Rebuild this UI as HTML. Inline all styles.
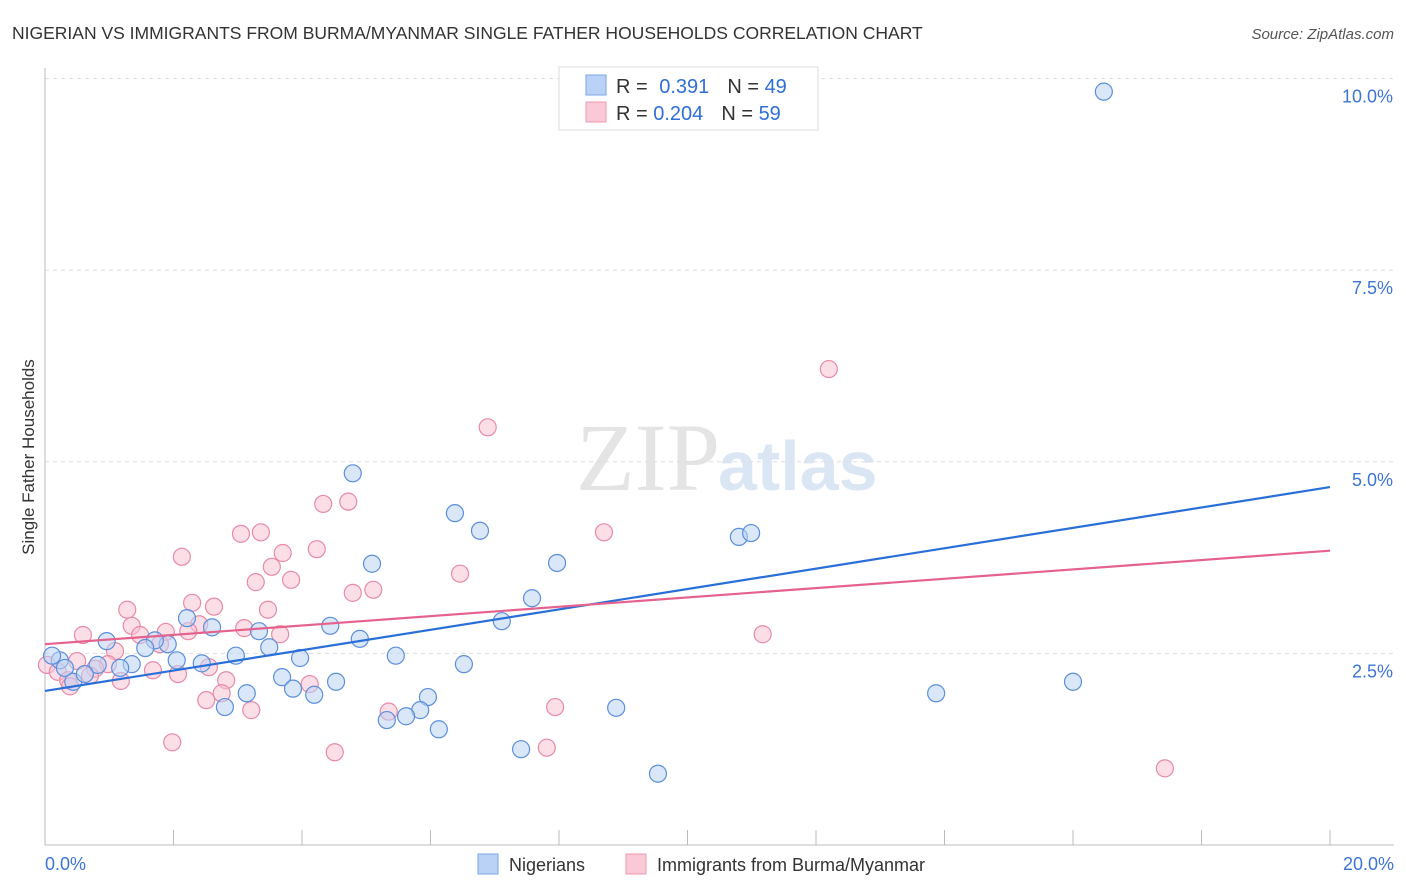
<!DOCTYPE html>
<html><head><meta charset="utf-8"><style>
body{margin:0;background:#fff;font-family:"Liberation Sans",sans-serif}
svg{display:block}
</style></head><body>
<svg id="chart" width="1406" height="892" viewBox="0 0 1406 892">
<text x="12" y="39" font-size="17.5" fill="#333">NIGERIAN VS IMMIGRANTS FROM BURMA/MYANMAR SINGLE FATHER HOUSEHOLDS CORRELATION CHART</text>
<text x="1394" y="39" font-size="15" fill="#555" font-style="italic" text-anchor="end">Source: ZipAtlas.com</text>
<text x="720" y="490" font-size="96" font-family="Liberation Serif,serif" fill="#e4e4e4" text-anchor="end">ZIP</text>
<text x="718" y="490" font-size="70" fill="#dbe6f5" font-weight="bold">atlas</text>
<g id="grid"></g>
<g id="axes"></g>
<g id="points"></g>
<g id="lines"></g>
<text transform="translate(34,457) rotate(-90)" font-size="17" fill="#333" text-anchor="middle">Single Father Households</text>
<g>
<rect x="559" y="67" width="259" height="63" fill="#fff" stroke="#ddd"/>
<rect x="586" y="75" width="20" height="20" fill="#b9d2f5" stroke="#7aa6e6"/>
<rect x="586" y="102" width="20" height="20" fill="#f9c9d7" stroke="#eb9ab2"/>
<text x="616" y="93" font-size="20" fill="#333">R = <tspan fill="#2f6fd6" dx="6">0.391</tspan><tspan dx="18">N = </tspan><tspan fill="#2f6fd6">49</tspan></text>
<text x="616" y="120" font-size="20" fill="#333">R = <tspan fill="#2f6fd6">0.204</tspan><tspan dx="18">N = </tspan><tspan fill="#2f6fd6">59</tspan></text>
</g>
<g>
<rect x="478" y="854" width="20" height="20" fill="#b9d2f5" stroke="#7aa6e6"/>
<text x="509" y="871" font-size="18" fill="#333">Nigerians</text>
<rect x="626" y="854" width="20" height="20" fill="#f9c9d7" stroke="#eb9ab2"/>
<text x="657" y="871" font-size="18" fill="#333">Immigrants from Burma/Myanmar</text>
</g>
</svg>
<script>
const yTicks=[2.5,5.0,7.5,10.0];
const yTickLabels=["2.5%","5.0%","7.5%","10.0%"];
const xTicks=[0,2,4,6,8,10,12,14,16,18,20];
const xTickLabels=["0.0%","20.0%"];
const nigX=[16.48,4.79,6.38,6.77,5.09,7.97,10.80,10.99,7.58,7.11,4.44,4.90,3.33,2.60,2.21,1.91,1.71,0.96,1.56,3.49,2.97,2.05,2.44,3.97,5.46,6.52,1.35,1.17,0.82,0.23,0.11,0.31,0.44,0.62,3.69,3.86,4.19,4.53,3.14,2.80,5.96,5.84,5.62,5.32,6.13,8.89,7.41,9.54,13.87,16.00];
const nigY=[9.83,4.85,4.33,4.10,3.67,3.68,4.02,4.07,3.22,2.92,2.86,2.69,2.79,2.84,2.96,2.62,2.67,2.66,2.57,2.58,2.47,2.41,2.37,2.44,2.47,2.36,2.36,2.31,2.35,2.41,2.47,2.31,2.13,2.23,2.19,2.04,1.96,2.13,1.98,1.80,1.93,1.76,1.68,1.63,1.51,1.79,1.25,0.93,1.98,2.13];
const burX=[12.20,6.89,4.72,4.33,8.70,3.05,3.36,4.23,3.70,2.13,3.53,6.46,3.28,3.83,5.11,4.79,2.29,2.63,1.28,3.47,1.35,2.40,3.10,2.23,1.88,1.48,0.59,3.66,11.17,1.79,1.09,1.68,2.07,2.55,0.50,0.98,0.78,0.03,0.20,0.36,0.39,0.70,1.18,2.82,4.12,2.75,2.51,3.21,5.35,7.94,1.98,4.51,7.81,17.43];
const burY=[6.21,5.45,4.48,4.45,4.08,4.06,4.08,3.86,3.81,3.76,3.63,3.54,3.43,3.46,3.33,3.29,3.16,3.11,3.07,3.07,2.86,2.88,2.83,2.79,2.78,2.74,2.74,2.75,2.75,2.62,2.53,2.28,2.23,2.32,2.40,2.36,2.30,2.35,2.26,2.15,2.07,2.21,2.14,2.15,2.10,1.98,1.89,1.76,1.74,1.80,1.34,1.21,1.27,1.00];
const nigTrend=[2.01,4.67];
const burTrend=[2.62,3.84];
const NS="http://www.w3.org/2000/svg";
const sx=v=>45+v/20*1285;
const sy=v=>845-v*76.64;
function mk(tag,attrs,parent){const e=document.createElementNS(NS,tag);for(const k in attrs)e.setAttribute(k,attrs[k]);parent.appendChild(e);return e;}
const grid=document.getElementById('grid'),axes=document.getElementById('axes'),pts=document.getElementById('points'),lines=document.getElementById('lines');
yTicks.forEach((t,i)=>{
 const l=mk('line',{x1:45,x2:1394,y1:sy(t),y2:sy(t),stroke:'#ddd','stroke-dasharray':'4,4'},grid);
 
 
 const tx=mk('text',{x:1393,y:sy(t)+24,'font-size':18,fill:'#3d75d6','text-anchor':'end'},axes);
 tx.textContent=yTickLabels[i];
 
 
});
const ya=mk('line',{x1:45,x2:45,y1:68,y2:845,stroke:'#bbb'},axes);


const xa=mk('line',{x1:45,x2:1394,y1:845,y2:845,stroke:'#bbb'},axes);


xTicks.forEach(t=>{
 const l=mk('line',{x1:sx(t),x2:sx(t),y1:830,y2:845,stroke:'#bbb'},axes);
 
 
});
[[0,'start',45],[20,'end',1394]].forEach((a,i)=>{
 const tx=mk('text',{x:a[2],y:870,'font-size':18,fill:'#3d75d6','text-anchor':a[1]},axes);
 tx.textContent=xTickLabels[i];
 
 
});
function drawPts(X,Y,fill,stroke,name){
 X.forEach((x,i)=>{
  const c=mk('circle',{cx:sx(x),cy:sy(Y[i]),r:8.5,fill:fill,'fill-opacity':0.55,stroke:stroke,'stroke-width':1.2},pts);
  
  
 });
}
drawPts(burX,burY,'#f9c3d3','#e88aa8','burma-point');
drawPts(nigX,nigY,'#bcd4f4','#5b8fdd','nigerian-point');
const lb=mk('line',{x1:sx(0),y1:sy(nigTrend[0]),x2:sx(20),y2:sy(nigTrend[1]),stroke:'#2a6fd8','stroke-width':2.2},lines);


const lp=mk('line',{x1:sx(0),y1:sy(burTrend[0]),x2:sx(20),y2:sy(burTrend[1]),stroke:'#e5628e','stroke-width':2.2},lines);


</script>
</body></html>
